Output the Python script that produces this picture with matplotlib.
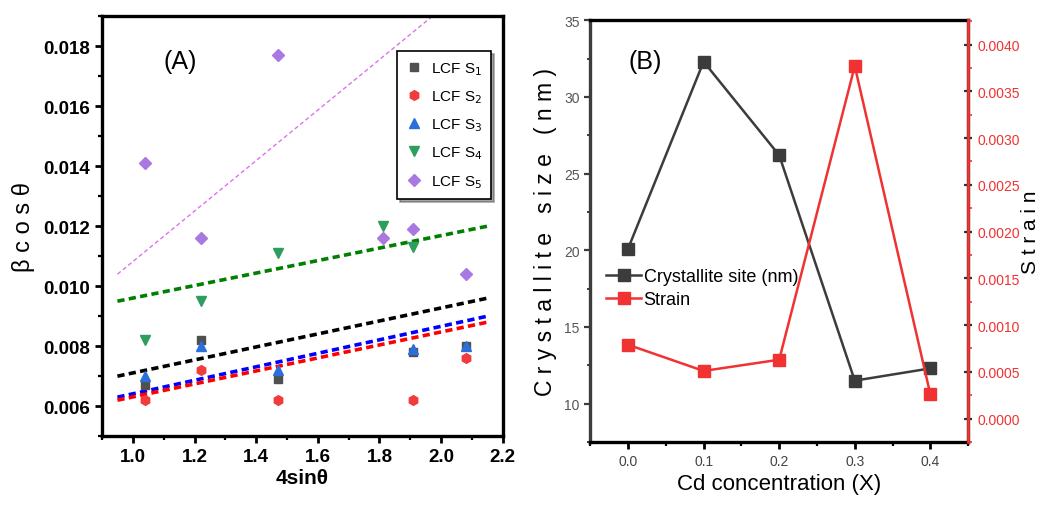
import matplotlib
matplotlib.use("Agg")
import matplotlib.pyplot as plt
import numpy as np
from matplotlib.ticker import MultipleLocator

# ---------------- Panel A data ----------------
xA_common = [1.04, 1.22, 1.47, 1.91, 2.08]
s1_y = [0.0067, 0.0082, 0.0069, 0.0078, 0.0080]
s2_y = [0.0062, 0.0072, 0.0062, 0.0062, 0.0076]
s3_y = [0.0070, 0.0080, 0.0072, 0.0079, 0.0080]
s4_x = [1.04, 1.22, 1.47, 1.81, 1.91]
s4_y = [0.0082, 0.0095, 0.0111, 0.0120, 0.0113]
s5_x = [1.04, 1.22, 1.47, 1.81, 1.91, 2.08]
s5_y = [0.0141, 0.0116, 0.0177, 0.0116, 0.0119, 0.0104]
series_labels = ["LCF S$_1$", "LCF S$_2$", "LCF S$_3$", "LCF S$_4$", "LCF S$_5$"]
# linear fits (value at x=0.95 and x=2.15)
fit_start = [0.0070, 0.0062, 0.0063, 0.0095, 0.0104]
fit_end = [0.0096, 0.0088, 0.0090, 0.0120, 0.0205]
fit_x = [0.95, 2.15]

# ---------------- Panel B data ----------------
cd_conc = [0.0, 0.1, 0.2, 0.3, 0.4]
crystallite = [20.1, 32.3, 26.2, 11.5, 12.3]
strain = [0.00079, 0.00051, 0.00063, 0.00377, 0.00026]

FONT = ['Liberation Sans', 'DejaVu Sans']
plt.rcParams['font.family'] = FONT

fig = plt.figure(figsize=(10.41, 5.06), dpi=100)

# ================= Panel A =================
axA = fig.add_axes([0.098, 0.136, 0.385, 0.830])
marker_colors = ['#505050', '#f03c3c', '#2a6fdb', '#2e9e5e', '#a978e0']
fit_colors = ['black', 'red', 'blue', 'green', '#e070f0']
markers = ['s', 'h', '^', 'v', 'D']
xs = [xA_common, xA_common, xA_common, s4_x, s5_x]
ys = [s1_y, s2_y, s3_y, s4_y, s5_y]
sizes = [6, 7, 7, 7, 6]
for i in range(5):
    axA.plot(xs[i], ys[i], linestyle='none', marker=markers[i], color=marker_colors[i],
             markersize=sizes[i], label=series_labels[i], zorder=3)
order = [0, 2, 1, 3, 4]
for i in order:
    lw = 1.0 if i == 4 else 2.6
    dash = (3, 2) if i == 4 else (2, 1.2)
    axA.plot(fit_x, [fit_start[i], fit_end[i]], color=fit_colors[i], lw=lw,
             linestyle=(0, dash), zorder=2)

axA.set_xlim(0.9, 2.2)
axA.set_ylim(0.005, 0.019)
axA.xaxis.set_minor_locator(MultipleLocator(0.1))
axA.yaxis.set_minor_locator(MultipleLocator(0.001))
axA.set_yticks([0.006, 0.008, 0.010, 0.012, 0.014, 0.016, 0.018])
axA.set_yticklabels(['0.006', '0.008', '0.010', '0.012', '0.014', '0.016', '0.018'])
axA.set_xticks([1.0, 1.2, 1.4, 1.6, 1.8, 2.0, 2.2])
axA.set_xticklabels(['1.0', '1.2', '1.4', '1.6', '1.8', '2.0', '2.2'])
axA.tick_params(axis='both', which='major', direction='out', length=5, width=2,
                labelsize=13.5, top=False, right=False)
axA.tick_params(axis='both', which='minor', direction='out', length=3, width=1.6,
                top=False, right=False)
for lab in axA.get_xticklabels() + axA.get_yticklabels():
    lab.set_fontweight('bold')
for sp in axA.spines.values():
    sp.set_linewidth(2.4)
axA.set_xlabel('4sinθ', fontsize=15, fontweight='bold', labelpad=2)
axA.set_ylabel('β c o s θ', fontsize=17, labelpad=6)
axA.text(0.195, 0.893, '(A)', transform=axA.transAxes, fontsize=18,
         ha='center', va='center')
legA = axA.legend(loc='upper right', bbox_to_anchor=(0.99, 0.935), frameon=True,
                  shadow=True, fancybox=False, fontsize=11, handletextpad=0.6,
                  borderpad=0.6, labelspacing=0.75, handlelength=1.0)
legA.get_frame().set_edgecolor('black')
legA.get_frame().set_linewidth(1.2)

# ================= Panel B =================
axB = fig.add_axes([0.567, 0.1245, 0.363, 0.8335])
gray = '#3c3c3c'
red = '#f03232'
l1, = axB.plot(cd_conc, crystallite, color=gray, lw=1.8, marker='s', markersize=8,
               label='Crystallite site (nm)')
axB.set_xlim(-0.05, 0.45)
axB.set_ylim(7.5, 35)
axB.xaxis.set_minor_locator(MultipleLocator(0.05))
axB.yaxis.set_major_locator(MultipleLocator(5))
axB.yaxis.set_minor_locator(MultipleLocator(2.5))
axB.set_xticks([0.0, 0.1, 0.2, 0.3, 0.4])
axB.set_xticklabels(['0.0', '0.1', '0.2', '0.3', '0.4'])
axB.tick_params(axis='x', which='major', direction='out', length=5, width=2,
                labelsize=10, labelcolor='#444444')
axB.tick_params(axis='x', which='minor', direction='out', length=3, width=1.6)
axB.tick_params(axis='y', which='major', direction='out', length=4, width=1.6,
                labelsize=10, labelcolor='#555555', color=gray)
axB.tick_params(axis='y', which='minor', direction='out', length=2.5, width=1.4, color=gray)
for sp in axB.spines.values():
    sp.set_linewidth(2.4)
axB.spines['left'].set_color(gray)
axB.set_xlabel('Cd concentration (X)', fontsize=16, labelpad=4)
axB.set_ylabel('C r y s t a l l i t e   s i z e   ( n m )', fontsize=16.5, labelpad=5)
axB.text(0.145, 0.903, '(B)', transform=axB.transAxes, fontsize=18,
         ha='center', va='center')

axB2 = axB.twinx()
l2, = axB2.plot(cd_conc, strain, color=red, lw=1.8, marker='s', markersize=8,
                label='Strain')
axB2.set_ylim(-0.00025, 0.00426)
axB2.set_yticks([0.0, 0.0005, 0.0010, 0.0015, 0.0020, 0.0025, 0.0030, 0.0035, 0.0040])
axB2.set_yticklabels(['0.0000', '0.0005', '0.0010', '0.0015', '0.0020', '0.0025',
                      '0.0030', '0.0035', '0.0040'])
axB2.yaxis.set_minor_locator(MultipleLocator(0.00025))
axB2.tick_params(axis='y', which='major', direction='inout', length=6, width=1.6,
                 labelsize=10, labelcolor=red, color='#333333')
axB2.tick_params(axis='y', which='minor', direction='out', length=3, width=1.2, color=red)
axB2.spines['right'].set_color(red)
axB2.spines['right'].set_linewidth(2.0)
axB2.spines['left'].set_visible(False)
axB2.spines['top'].set_visible(False)
axB2.spines['bottom'].set_visible(False)
axB2.set_ylabel('S t r a i n', fontsize=15, labelpad=1)

axB.legend(handles=[l1, l2], loc='upper left', bbox_to_anchor=(0.0, 0.45),
           frameon=False, fontsize=13, handlelength=1.9, handletextpad=0.15,
           labelspacing=0.3)

fig.savefig('out.png', dpi=100)
